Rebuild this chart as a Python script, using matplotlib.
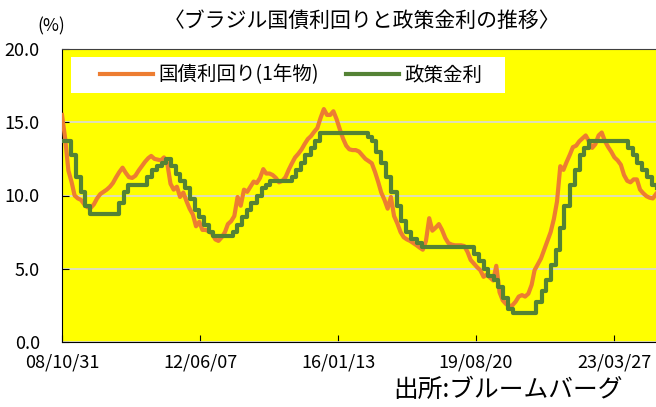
import numpy as np
import pandas as pd
import matplotlib
matplotlib.use('Agg')
import matplotlib.pyplot as plt
import matplotlib.dates as mdates
from matplotlib.patches import Rectangle

plt.rcParams['font.family'] = ['Noto Sans CJK JP', 'DejaVu Sans']

# 国債利回り(1年物), month-end values, from 2008/10/31
bond_yield = [
    15.5, 13.9, 11.7, 10.9, 10.0, 9.8, 9.7, 9.4, 9.2, 9.15,
    9.4, 9.8, 10.1, 10.25, 10.4, 10.6, 10.85, 11.25, 11.6, 11.9,
    11.55, 11.25, 11.2, 11.35, 11.7, 12.0, 12.3, 12.55, 12.7, 12.5,
    12.45, 12.4, 12.6, 12.2, 10.8, 10.4, 10.6, 9.9, 10.2, 9.6,
    9.1, 8.7, 7.9, 8.2, 7.65, 7.65, 7.55, 7.4, 7.0, 6.9,
    7.15, 7.5, 8.05, 8.25, 8.6, 9.9, 9.3, 10.4, 10.25, 10.6,
    10.95, 10.85, 11.2, 11.8, 11.5, 11.5, 11.4, 11.2, 10.9, 11.0,
    11.25, 11.75, 12.2, 12.6, 12.85, 13.15, 13.5, 13.85, 14.05, 14.35,
    14.6, 15.3, 15.9, 15.5, 15.5, 15.75, 15.2, 14.5, 13.9, 13.4,
    13.15, 13.1, 13.1, 13.0, 12.75, 12.5, 12.35, 12.2, 11.6, 10.9,
    10.2, 9.7, 9.1, 9.9, 8.6, 8.1, 7.5, 7.15, 7.0, 6.9,
    6.75, 6.6, 6.45, 6.3, 6.9, 8.45, 7.6, 7.8, 8.05, 7.65,
    7.1, 6.75, 6.65, 6.6, 6.6, 6.6, 6.55, 6.15, 5.6, 5.35,
    5.1, 4.9, 4.45, 4.6, 4.4, 4.2, 5.2, 3.4, 2.85, 2.6,
    2.45, 2.5, 2.75, 3.1, 3.2, 3.1, 3.3, 3.9, 4.9, 5.3,
    5.7, 6.3, 6.9, 7.5, 8.4, 9.6, 12.0, 11.75, 12.3, 12.8,
    13.3, 13.4, 13.7, 13.9, 14.1, 13.7, 13.25, 13.5, 14.1, 14.3,
    13.7, 13.3, 13.0, 12.6, 12.4, 12.1, 11.4, 11.0, 10.9, 11.1,
    11.1, 10.4, 10.15, 9.95, 9.85, 9.8, 10.1,
]
bond_dates = pd.date_range('2008-10-31', periods=len(bond_yield), freq='ME')

# 政策金利 (Selic target), date of each change
policy_dates = [
    '2008-09-11', '2009-01-22', '2009-03-12', '2009-04-30', '2009-06-11', '2009-07-23',
    '2010-04-29', '2010-06-10', '2010-07-22', '2011-01-20', '2011-03-03', '2011-04-21',
    '2011-06-09', '2011-07-21', '2011-09-01', '2011-10-20', '2011-12-01', '2012-01-19',
    '2012-03-08', '2012-04-19', '2012-05-31', '2012-07-12', '2012-08-30', '2012-10-11',
    '2013-04-18', '2013-05-30', '2013-07-11', '2013-08-29', '2013-10-10', '2013-11-28',
    '2014-01-16', '2014-02-27', '2014-04-03', '2014-10-30', '2014-12-04', '2015-01-22',
    '2015-03-05', '2015-04-30', '2015-06-04', '2015-07-30', '2016-10-20', '2016-12-01',
    '2017-01-12', '2017-02-23', '2017-04-13', '2017-06-01', '2017-07-27', '2017-09-07',
    '2017-10-26', '2017-12-07', '2018-02-08', '2018-03-22', '2019-08-01', '2019-09-19',
    '2019-10-31', '2019-12-12', '2020-02-06', '2020-03-19', '2020-05-07', '2020-06-18',
    '2020-08-06', '2021-03-18', '2021-05-06', '2021-06-17', '2021-08-05', '2021-09-23',
    '2021-10-28', '2021-12-09', '2022-02-03', '2022-03-17', '2022-05-05', '2022-06-16',
    '2022-08-04', '2023-08-03', '2023-09-21', '2023-11-02', '2023-12-14', '2024-02-01',
    '2024-03-21', '2024-05-09', '2024-06-30',
]
policy_rate = [
    13.75, 12.75, 11.25, 10.25, 9.25, 8.75,
    9.5, 10.25, 10.75, 11.25, 11.75, 12.0,
    12.25, 12.5, 12.0, 11.5, 11.0, 10.5,
    9.75, 9.0, 8.5, 8.0, 7.5, 7.25,
    7.5, 8.0, 8.5, 9.0, 9.5, 10.0,
    10.5, 10.75, 11.0, 11.25, 11.75, 12.25,
    12.75, 13.25, 13.75, 14.25, 14.0, 13.75,
    13.0, 12.25, 11.25, 10.25, 9.25, 8.25,
    7.5, 7.0, 6.75, 6.5, 6.0, 5.5,
    5.0, 4.5, 4.25, 3.75, 3.0, 2.25,
    2.0, 2.75, 3.5, 4.25, 5.25, 6.25,
    7.75, 9.25, 10.75, 11.75, 12.75, 13.25,
    13.75, 13.25, 12.75, 12.25, 11.75, 11.25,
    10.75, 10.5, 10.5,
]

tick_dates = pd.date_range('2008-10-31', periods=5, freq='1315D')

fig = plt.figure(figsize=(6.56, 4.07), dpi=100)
ax = fig.add_axes([62 / 656, 1 - 342 / 407, 594 / 656, 293 / 407])
ax.set_facecolor('#FFFF00')

ax.plot(bond_dates, bond_yield, color='#ED7D31', lw=3.0, label='国債利回り(1年物)', zorder=3)
ax.plot(pd.to_datetime(policy_dates), policy_rate, color='#548235', lw=3.0,
        drawstyle='steps-post', label='政策金利', zorder=4)

ax.set_ylim(0, 20)
ax.set_yticks([0, 5, 10, 15, 20])
ax.yaxis.set_major_formatter(matplotlib.ticker.FormatStrFormatter('%.1f'))
ax.set_xlim(pd.Timestamp('2008-10-31'), pd.Timestamp('2024-04-30'))
ax.set_xticks(tick_dates)
ax.xaxis.set_major_formatter(mdates.DateFormatter('%y/%m/%d'))
ax.tick_params(direction='in', length=5, labelsize=13, colors='black')
ax.tick_params(axis='x', pad=8)
ax.tick_params(axis='y', pad=16)
ax.grid(axis='y', color='#D9D9D9', lw=1.2)
ax.set_axisbelow(True)
for s in ['left', 'bottom']:
    ax.spines[s].set_color('black')
ax.spines['top'].set_color('#404040')
ax.spines['right'].set_visible(False)

# white legend panel
ax.add_patch(Rectangle((0.015, 0.85), 0.731, 0.123, transform=ax.transAxes,
                       facecolor='white', edgecolor='none', zorder=5))
leg = ax.legend(loc='center left', bbox_to_anchor=(0.064, 0.911), ncol=2, fontsize=14,
                frameon=False, handlelength=2.7, handletextpad=0.3, columnspacing=1.4,
                borderaxespad=0, borderpad=0)
leg.set_zorder(6)

fig.text(0.552, 0.95, '〈ブラジル国債利回りと政策金利の推移〉', ha='center', va='center', fontsize=15)
fig.text(0.078, 0.936, '(%)', ha='center', va='center', fontsize=12.5)
fig.text(0.599, 0.042, '出所:ブルームバーグ', ha='left', va='center', fontsize=17.8)

plt.savefig('out.png', dpi=100)
